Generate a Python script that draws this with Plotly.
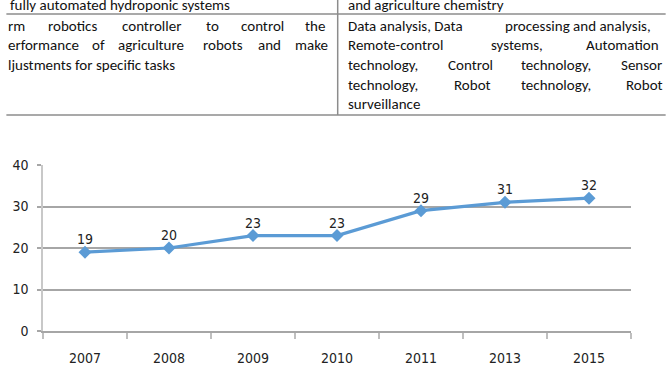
import plotly.graph_objects as go

# ---- data ----
years = ["2007", "2008", "2009", "2010", "2011", "2013", "2015"]
values = [19, 20, 23, 23, 29, 31, 32]
y_ticks = [0, 10, 20, 30, 40]

# table fragment text (word groups of justified lines)
top_left_text = "fully automated hydroponic systems"
top_right_text = "and agriculture chemistry"
left_lines = [
    ["rm", "robotics", "controller", "to", "control", "the"],
    ["erformance", "of", "agriculture", "robots", "and", "make"],
    ["ljustments for specific tasks"],
]
right_lines = [
    ["Data analysis, Data", "processing and analysis,"],
    ["Remote-control", "systems,", "Automation"],
    ["technology,", "Control", "technology,", "Sensor"],
    ["technology,", "Robot", "technology,", "Robot"],
    ["surveillance"],
]
# left x positions (px) of each word group
left_pos = [
    [0, 40, 115, 200, 235, 300],
    [0, 84, 111, 197, 252, 290],
    [0],
]
right_pos = [
    [343, 502],
    [343, 488, 584],
    [343, 444, 518, 619],
    [343, 450, 518, 624],
    [343],
]

W, H = 666, 391
L, R, T, B = 37, 35, 165, 60
PW, PH = W - L - R, H - T - B


def px(x):
    return (x - L) / PW


def py(y):
    return (H - B - y) / PH


TEXT_FONT = dict(family="Carlito, Lato, 'Liberation Sans', sans-serif", size=15, color="#111111")
CHART_FONT = dict(family="'Liberation Sans Narrow', 'DejaVu Sans Condensed', sans-serif",
                  size=14, color="#222222")

BLUE = "#5b9bd5"
fig = go.Figure()
fig.add_trace(go.Scatter(
    x=years, y=values,
    mode="lines+markers",
    line=dict(color=BLUE, width=3.2),
    marker=dict(symbol="diamond", size=10, color=BLUE),
    cliponaxis=False,
    showlegend=False,
    hoverinfo="skip",
))

annotations = []
for i, v in enumerate(values):
    # category axis: annotation x is the category's serial number
    annotations.append(dict(x=i, y=v, xref="x", yref="y", text=str(v), showarrow=False,
                            yshift=13, font=CHART_FONT))

grey = "#a6a6a6"
fig.update_xaxes(
    type="category", range=[-0.5, 6.5],
    showline=True, linecolor=grey, linewidth=1.5,
    ticks="outside", tickson="boundaries", ticklen=6, tickcolor="#bfbfbf", tickwidth=1.5,
    showgrid=False, tickfont=CHART_FONT, ticklabelstandoff=13,
)
fig.update_yaxes(
    range=[0, 40], tickvals=y_ticks,
    showline=True, linecolor="#c8c8c8", linewidth=1.5,
    ticks="outside", ticklen=4, tickcolor=grey, tickwidth=1.5,
    showgrid=True, gridcolor=grey, gridwidth=1.5,
    zeroline=False, tickfont=CHART_FONT, ticklabelstandoff=6,
)

# table lines
line_style = dict(color="#8c8c8c", width=1.5)
shapes = [
    dict(type="line", xref="paper", yref="paper", x0=px(0), x1=px(W), y0=py(14), y1=py(14), line=line_style),
    dict(type="line", xref="paper", yref="paper", x0=px(0), x1=px(W), y0=py(115), y1=py(115), line=line_style),
    dict(type="line", xref="paper", yref="paper", x0=px(334.7), x1=px(334.7), y0=py(0), y1=py(115), line=line_style),
]


def add_text(txt, x, yc):
    annotations.append(dict(text=txt, xref="paper", yref="paper", x=px(x), y=py(yc),
                            xanchor="left", yanchor="middle", showarrow=False,
                            font=TEXT_FONT))


add_text(top_left_text, 2, 4.5)
add_text(top_right_text, 343, 4.5)
row_y = [26, 45.5, 65, 84.5, 104]
for i, words in enumerate(left_lines):
    for w, x in zip(words, left_pos[i]):
        add_text(w, x, row_y[i])
for i, words in enumerate(right_lines):
    for w, x in zip(words, right_pos[i]):
        add_text(w, x, row_y[i])

fig.update_layout(
    width=W, height=H,
    margin=dict(l=L, r=R, t=T, b=B, pad=0),
    paper_bgcolor="white", plot_bgcolor="white",
    shapes=shapes, annotations=annotations,
)

fig.write_html("out.html")
